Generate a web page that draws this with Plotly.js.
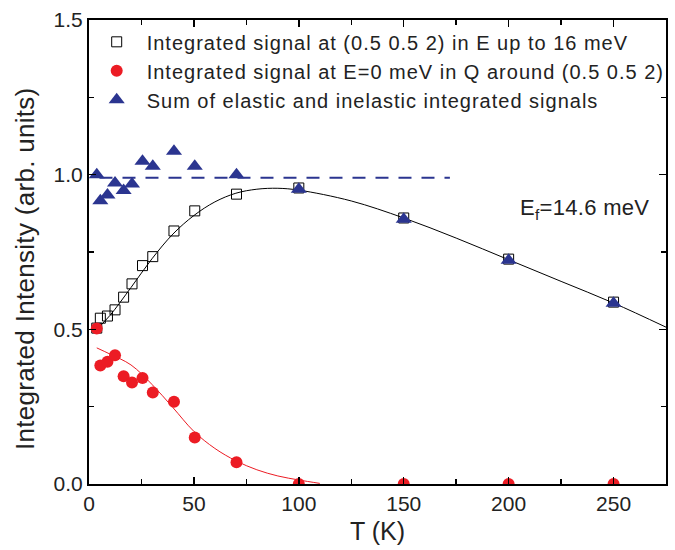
<!DOCTYPE html>
<html>
<head>
<meta charset="utf-8">
<script src="https://cdn.plot.ly/plotly-3.0.1.min.js"></script>
<style>
html,body{margin:0;padding:0;background:#fff;}
#chart{width:675px;height:550px;}
.legendtext{letter-spacing:1px;}
.annotation-text{letter-spacing:0.3px;}
</style>
</head>
<body>
<div id="chart"></div>
<script>
// Data
var T = [3.7, 5.4, 8.8, 12.4, 16.5, 20.5, 25.5, 30.4, 40.5, 50.4, 70.3, 100, 150, 200, 250];
var inelastic = [0.504, 0.536, 0.543, 0.563, 0.604, 0.647, 0.706, 0.735, 0.818, 0.883, 0.937, 0.957, 0.860, 0.727, 0.588];
var elastic = [0.503, 0.383, 0.395, 0.416, 0.348, 0.328, 0.343, 0.296, 0.266, 0.150, 0.070, 0.0, 0.0, 0.0, 0.0];
var total = [1.000, 0.916, 0.934, 0.973, 0.949, 0.970, 1.043, 1.027, 1.076, 1.027, 1.000, 0.953, 0.856, 0.723, 0.584];

var fitInelT = [3.7, 10, 20, 30, 40, 50, 60, 70, 80, 90, 100, 125, 150, 175, 200, 225, 250, 275];
var fitInelY = [0.500, 0.545, 0.635, 0.728, 0.808, 0.868, 0.912, 0.940, 0.953, 0.956, 0.950, 0.915, 0.860, 0.795, 0.725, 0.655, 0.585, 0.507];
var fitElT = [3.7, 10, 20, 30, 40, 50, 60, 70, 80, 90, 100, 110];
var fitElY = [0.440, 0.420, 0.385, 0.322, 0.247, 0.170, 0.115, 0.075, 0.046, 0.026, 0.013, 0.002];
var dashT = [5, 172];
var dashY = [0.99, 0.99];

var legendNames = [
  'Integrated signal at (0.5 0.5 2) in E up to 16 meV',
  'Integrated signal at E=0 meV in Q around (0.5 0.5 2)',
  'Sum of elastic and inelastic integrated signals'
];
var xTitle = 'T (K)';
var yTitle = 'Integrated Intensity (arb. units)';
var note = 'E<sub>f</sub>=14.6 meV';

var navy = '#2b3590';
var red = '#ec1c24';

var traces = [
  {x: fitInelT, y: fitInelY, mode: 'lines', line: {color: '#000', width: 1, shape: 'spline'}, showlegend: false, hoverinfo: 'skip'},
  {x: fitElT, y: fitElY, mode: 'lines', line: {color: red, width: 1, shape: 'spline'}, showlegend: false, hoverinfo: 'skip'},
  {x: dashT, y: dashY, mode: 'lines', line: {color: navy, width: 2, dash: '13px,10px'}, showlegend: false, hoverinfo: 'skip'},
  {x: T, y: inelastic, name: legendNames[0], mode: 'markers', marker: {symbol: 'square-open', size: 10, color: '#000', line: {width: 1, color: '#000'}}},
  {x: T, y: elastic, name: legendNames[1], mode: 'markers', marker: {symbol: 'circle', size: 12, color: red}},
  {x: T, y: total, name: legendNames[2], mode: 'markers', marker: {symbol: 'triangle-up', size: 14, color: navy}}
];

var font = 'Liberation Sans, Arial, sans-serif';
var layout = {
  width: 675, height: 550,
  margin: {l: 89, r: 9, t: 20, b: 66},
  paper_bgcolor: '#fff', plot_bgcolor: '#fff',
  font: {family: font, color: '#222'},
  showlegend: true,
  legend: {x: -0.004, y: 0.995, xanchor: 'left', yanchor: 'top', bgcolor: 'rgba(0,0,0,0)',
           font: {family: font, size: 20, color: '#222'}, itemwidth: 50, tracegroupgap: 0},
  xaxis: {
    range: [0, 275], dtick: 50, tick0: 0,
    ticks: 'inside', ticklen: 7, tickwidth: 1.5, tickcolor: '#000',
    minor: {dtick: 25, ticks: 'inside', ticklen: 5, tickwidth: 1.5, tickcolor: '#000'},
    showline: true, linecolor: '#000', linewidth: 2, mirror: 'allticks',
    showgrid: false, zeroline: false,
    tickfont: {family: font, size: 21, color: '#222'},
    title: {text: xTitle, font: {family: font, size: 25, color: '#222'}, standoff: 8}
  },
  yaxis: {
    range: [0, 1.5], dtick: 0.5, tick0: 0, tickformat: '.1f',
    ticks: 'inside', ticklen: 7, tickwidth: 1.5, tickcolor: '#000',
    minor: {dtick: 0.25, ticks: 'inside', ticklen: 5, tickwidth: 1.5, tickcolor: '#000'},
    showline: true, linecolor: '#000', linewidth: 2, mirror: 'allticks',
    showgrid: false, zeroline: false,
    tickfont: {family: font, size: 21, color: '#222'}
  },
  annotations: [
    {x: 268, y: 0.89, xref: 'x', yref: 'y', xanchor: 'right', yanchor: 'middle',
     text: note, showarrow: false, font: {family: font, size: 22, color: '#222'}},
    {x: -0.111, y: 0.4655, xref: 'paper', yref: 'paper', xanchor: 'center', yanchor: 'middle',
     textangle: -90, text: yTitle, showarrow: false, font: {family: font, size: 26, color: '#222'}}
  ]
};

Plotly.newPlot('chart', traces, layout, {displayModeBar: false, staticPlot: true});
</script>
</body>
</html>
